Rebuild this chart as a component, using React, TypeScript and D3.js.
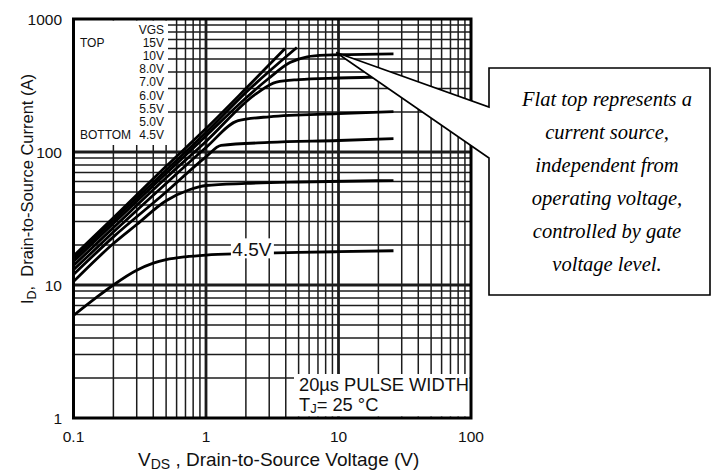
import React from "react";
import * as d3 from "d3";

// Typical output characteristics, log-log: ID vs VDS for several gate voltages
const W = 712;
const H = 471;

const VDS_DOMAIN: [number, number] = [0.1, 100];
const ID_DOMAIN: [number, number] = [1, 1000];
const VDS_TICKS = [0.1, 1, 10, 100];
const VDS_TICK_LABELS = ["0.1", "1", "10", "100"];
const ID_TICKS = [1, 10, 100, 1000];
const ID_TICK_LABELS = ["1", "10", "100", "1000"];

const LEGEND_HEADER = "VGS";
const LEGEND_LABELS = ["15V", "10V", "8.0V", "7.0V", "6.0V", "5.5V", "5.0V", "4.5V"];

// [VDS (V), ID (A)]
const CURVE_15V: [number, number][] = [[0.1, 16.5], [0.2, 32], [0.5, 78], [1, 150], [2, 300], [3.95, 600]];
const CURVE_10V: [number, number][] = [[0.1, 15.8], [0.2, 30.5], [0.5, 73], [1, 140], [2, 280], [4.85, 610]];
const CURVE_8V: [number, number][] = [[0.1, 15], [0.2, 29], [0.5, 69], [1, 132], [2, 255], [3, 360], [4.3, 470], [5.8, 520], [8, 535], [12, 540], [26, 546]];
const CURVE_7V: [number, number][] = [[0.1, 14], [0.2, 27], [0.5, 64], [1, 120], [2.4, 275], [3.4, 335], [5, 350], [10, 360], [26, 368]];
const CURVE_6V: [number, number][] = [[0.1, 13], [0.2, 25], [0.5, 58], [1, 108], [1.75, 172], [3, 184], [10, 194], [26, 201]];
const CURVE_5_5V: [number, number][] = [[0.1, 12], [0.2, 23], [0.5, 50], [1, 92], [1.3, 112], [3, 118], [10, 122], [26, 126]];
const CURVE_5V: [number, number][] = [[0.1, 10.6], [0.2, 20.5], [0.3, 28.5], [0.5, 43], [0.75, 52], [1, 56], [2, 58], [5, 59.5], [26, 61]];
const CURVE_4_5V: [number, number][] = [[0.1, 5.9], [0.15, 8.1], [0.2, 10], [0.3, 12.9], [0.4, 14.6], [0.5, 15.5], [0.7, 16.3], [1, 16.8], [2, 17.2], [5, 17.6], [10, 17.8], [26, 18.1]];

const CURVES = [CURVE_15V, CURVE_10V, CURVE_8V, CURVE_7V, CURVE_6V, CURVE_5_5V, CURVE_5V, CURVE_4_5V];

const CURVE_LABEL = "4.5V";
const CURVE_LABEL_AT: [number, number] = [2.22, 17];

const NOTE_LINES = [
  "Flat top represents a",
  "current source,",
  "independent from",
  "operating voltage,",
  "controlled by gate",
  "voltage level.",
];

const SANS = "'Liberation Sans', Arial, Helvetica, sans-serif";
const SERIF = "'Liberation Serif', 'Times New Roman', serif";

export default function App() {
  const left = 73.5;
  const right = 471;
  const top = 19;
  const bottom = 418;

  const x = d3.scaleLog().domain(VDS_DOMAIN).range([left, right]);
  const y = d3.scaleLog().domain(ID_DOMAIN).range([bottom, top]);

  const isMajor = (v: number) => Math.abs(Math.log10(v) - Math.round(Math.log10(v))) < 1e-9;

  const xGrid = x.ticks().filter((v) => v > VDS_DOMAIN[0] + 1e-9 && v < VDS_DOMAIN[1] - 1e-9);
  const yGrid = y.ticks().filter((v) => v > ID_DOMAIN[0] + 1e-9 && v < ID_DOMAIN[1] - 1e-9);

  const line = d3
    .line<[number, number]>()
    .x((d) => x(d[0]))
    .y((d) => y(d[1]))
    .curve(d3.curveMonotoneX);

  const gridColor = "#1c1c1c";

  // Callout bubble with a pointer aimed at the flat top of the 8.0V curve
  const tip: [number, number] = [x(9.6), y(560)];
  const box = { x0: 489, y0: 68, x1: 710, y1: 295, a: 107, b: 158 };
  const bubble = [
    [box.x0, box.y0],
    [box.x1, box.y0],
    [box.x1, box.y1],
    [box.x0, box.y1],
    [box.x0, box.b],
    tip,
    [box.x0, box.a],
  ]
    .map((p) => p.join(","))
    .join(" ");

  const lx = x(CURVE_LABEL_AT[0]);
  const ly = y(CURVE_LABEL_AT[1]);

  return (
    <svg
      width={W}
      height={H}
      viewBox={`0 0 ${W} ${H}`}
      style={{ position: "absolute", left: 0, top: 0, background: "#fff" }}
    >
      <rect x={0} y={0} width={W} height={H} fill="#fff" />

      {/* grid */}
      {xGrid.map((v, i) => (
        <line
          key={`gx${i}`}
          x1={x(v)}
          x2={x(v)}
          y1={top}
          y2={bottom}
          stroke={gridColor}
          strokeWidth={isMajor(v) ? 2.8 : 1.5}
        />
      ))}
      {yGrid.map((v, i) => (
        <line
          key={`gy${i}`}
          x1={left}
          x2={right}
          y1={y(v)}
          y2={y(v)}
          stroke={gridColor}
          strokeWidth={isMajor(v) ? 2.8 : 1.5}
        />
      ))}

      {/* legend panel */}
      <rect x={left + 1.5} y={top + 1.5} width={168 - left - 1.5} height={145 - top - 1.5} fill="#fff" />
      <g fontFamily={SANS} fontSize={12} fill="#111">
        <text x={164} y={34} textAnchor="end">{LEGEND_HEADER}</text>
        {LEGEND_LABELS.map((s, i) => (
          <text key={s} x={164} y={34 + (i + 1) * 13.1} textAnchor="end">{s}</text>
        ))}
        <text x={80} y={34 + 13.1}>TOP</text>
        <text x={80} y={34 + 8 * 13.1}>BOTTOM</text>
      </g>

      {/* test-condition panel */}
      <rect x={294} y={374} width={right - 294 - 1.5} height={bottom - 374 - 1.5} fill="#fff" />
      <g fontFamily={SANS} fontSize={18.3} fill="#111">
        <text x={299} y={391}>20µs PULSE WIDTH</text>
        <text x={299} y={411}>
          <tspan>T</tspan>
          <tspan fontSize={13} dy={2}>J</tspan>
          <tspan dy={-2}>= 25 °C</tspan>
        </text>
      </g>

      {/* curves */}
      {CURVES.map((c, i) => (
        <path key={`c${i}`} d={line(c) ?? ""} fill="none" stroke="#000" strokeWidth={2.8} />
      ))}

      {/* inline curve label */}
      <rect x={lx - 21} y={ly - 16} width={43} height={20} fill="#fff" />
      <text x={lx} y={ly + 2} textAnchor="middle" fontFamily={SANS} fontSize={19} fill="#111">
        {CURVE_LABEL}
      </text>

      {/* frame */}
      <rect x={left} y={top} width={right - left} height={bottom - top} fill="none" stroke="#000" strokeWidth={3} />

      {/* tick labels */}
      <g fontFamily={SANS} fontSize={15.5} fill="#111">
        {ID_TICKS.map((v, i) => (
          <text key={`ty${i}`} x={62} y={y(v)} dy="0.36em" textAnchor="end">
            {ID_TICK_LABELS[i]}
          </text>
        ))}
        {VDS_TICKS.map((v, i) => (
          <text key={`tx${i}`} x={x(v)} y={441.5} textAnchor="middle">
            {VDS_TICK_LABELS[i]}
          </text>
        ))}
      </g>

      {/* axis titles */}
      <text x={138} y={466} fontFamily={SANS} fontSize={19} fill="#111" style={{ whiteSpace: "pre" }}>
        <tspan>V</tspan>
        <tspan fontSize={14} dy={3}>DS</tspan>
        <tspan dy={-3}> , Drain-to-Source Voltage (V)</tspan>
      </text>
      <text
        transform={`translate(33,189) rotate(-90)`}
        textAnchor="middle"
        fontFamily={SANS}
        fontSize={16.5}
        fill="#111"
        style={{ whiteSpace: "pre" }}
      >
        <tspan>I</tspan>
        <tspan fontSize={12.5} dy={3}>D</tspan>
        <tspan dy={-3}>,  Drain-to-Source Current (A)</tspan>
      </text>

      {/* callout */}
      <polygon points={bubble} fill="#fff" stroke="#000" strokeWidth={1.6} strokeLinejoin="miter" />
      <g fontFamily={SERIF} fontStyle="italic" fontSize={20.5} fill="#000" textAnchor="middle">
        {NOTE_LINES.map((s, i) => (
          <text key={`n${i}`} x={607} y={106 + i * 33}>
            {s}
          </text>
        ))}
      </g>
    </svg>
  );
}
